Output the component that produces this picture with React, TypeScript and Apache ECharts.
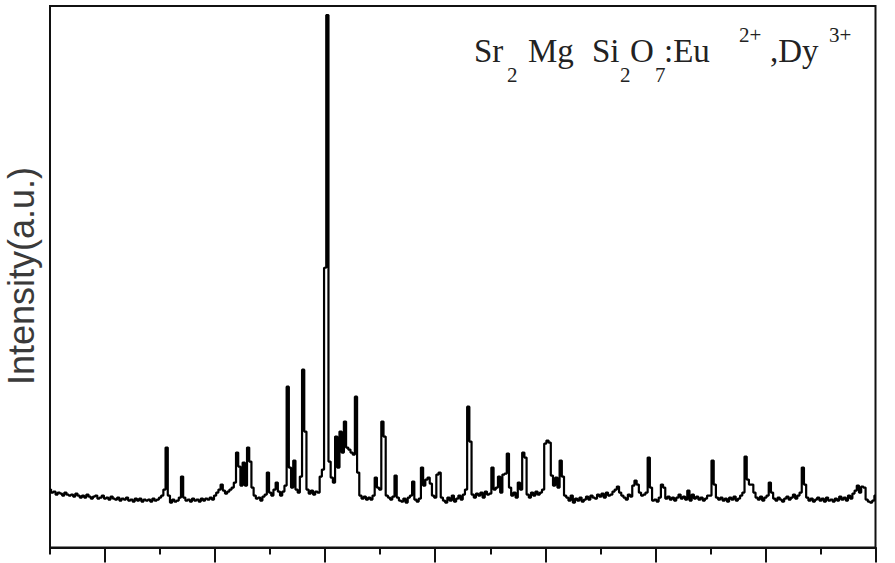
import React, { useEffect, useRef } from "react";
import * as echarts from "echarts";

// 2θ sampling grid (degrees)
const ANGLE_START = 5;
const ANGLE_STEP = 0.2;

// Intensity (a.u.), one row per degree: 2θ = d, d+0.2, d+0.4, d+0.6, d+0.8
const intensity: number[] = [
  58, 55, 56, 53, 55, // 5
  54, 52, 55, 53, 52, // 6
  53, 51, 54, 52, 50, // 7
  52, 50, 53, 51, 49, // 8
  51, 52, 49, 50, 52, // 9
  49, 50, 48, 51, 49, // 10
  48, 50, 47, 49, 48, // 11
  50, 47, 48, 46, 49, // 12
  47, 49, 46, 48, 47, // 13
  48, 46, 49, 47, 48, // 14
  50, 52, 58, 100, 52, // 15
  45, 48, 46, 47, 50, // 16
  71, 50, 47, 48, 46, // 17
  49, 47, 48, 46, 49, // 18
  47, 49, 48, 50, 48, // 19
  52, 55, 58, 63, 57, // 20
  54, 56, 58, 60, 65, // 21
  95, 81, 62, 85, 62, // 22
  100, 86, 60, 52, 49, // 23
  50, 47, 51, 53, 75, // 24
  55, 52, 58, 65, 56, // 25
  52, 56, 62, 161, 80, // 26
  60, 87, 58, 55, 71, // 27
  178, 116, 58, 54, 57, // 28
  53, 56, 55, 71, 78, // 29
  280, 533, 86, 70, 65, // 30
  111, 80, 116, 95, 126, // 31
  100, 98, 95, 93, 151, // 32
  75, 52, 49, 51, 48, // 33
  50, 48, 52, 70, 60, // 34
  58, 126, 111, 52, 50, // 35
  48, 51, 72, 50, 47, // 36
  46, 49, 45, 50, 52, // 37
  66, 48, 46, 49, 80, // 38
  62, 68, 70, 64, 52, // 39
  50, 73, 75, 50, 47, // 40
  45, 50, 47, 52, 46, // 41
  49, 52, 48, 53, 58, // 42
  141, 106, 53, 50, 54, // 43
  52, 55, 50, 56, 53, // 44
  54, 80, 58, 60, 71, // 45
  55, 73, 74, 94, 60, // 46
  52, 55, 50, 65, 58, // 47
  95, 90, 53, 50, 55, // 48
  52, 56, 53, 55, 58, // 49
  104, 107, 105, 72, 62, // 50
  70, 60, 87, 71, 52, // 51
  50, 47, 52, 45, 49, // 52
  47, 50, 46, 48, 51, // 53
  48, 52, 50, 49, 53, // 54
  51, 54, 50, 55, 52, // 55
  53, 56, 58, 61, 55, // 56
  52, 50, 48, 53, 51, // 57
  62, 67, 63, 55, 52, // 58
  53, 55, 90, 60, 47, // 59
  48, 46, 50, 63, 60, // 60
  49, 51, 48, 50, 47, // 61
  50, 53, 49, 51, 48, // 62
  57, 47, 53, 49, 51, // 63
  48, 50, 47, 49, 52, // 64
  52, 87, 63, 50, 48, // 65
  50, 47, 49, 46, 50, // 66
  48, 51, 47, 49, 52, // 67
  55, 91, 68, 63, 63, // 68
  55, 50, 48, 51, 47, // 69
  50, 52, 65, 55, 49, // 70
  47, 50, 48, 46, 49, // 71
  51, 48, 50, 53, 49, // 72
  52, 55, 80, 63, 50, // 73
  47, 49, 46, 48, 50, // 74
  47, 49, 46, 50, 47, // 75
  48, 46, 49, 47, 51, // 76
  48, 50, 47, 52, 49, // 77
  54, 57, 62, 55, 61, // 78
  60, 48, 46, 45, 47, // 79
  52, // 80
];

const X_MIN = 5;
const X_MAX = 80;
const X_MAJOR_START = 10;
const Y_MAX = 542;
const Y_LABEL = "Intensity(a.u.)";

// Title pieces: [text, kind, left x]
const titlePieces: [string, "main" | "sub" | "sup", number][] = [
  ["Sr", "main", 474],
  ["2", "sub", 507],
  ["Mg", "main", 528],
  ["Si", "main", 592],
  ["2", "sub", 620],
  ["O", "main", 630],
  ["7", "sub", 655],
  [":Eu", "main", 664],
  ["2+", "sup", 739],
  [",Dy", "main", 770],
  ["3+", "sup", 829],
];

export default function App() {
  const ref = useRef<HTMLDivElement>(null);
  useEffect(() => {
    if (!ref.current) return;
    const chart = echarts.init(ref.current, undefined, { renderer: "svg" });
    const data = intensity.map((v, i) => [
      +(ANGLE_START + i * ANGLE_STEP).toFixed(2),
      v,
    ]);
    const axisColor = "#111";
    const serif = '"Liberation Serif", "Times New Roman", serif';
    const gridLeft = 50;
    const gridRight = 19.5;
    const plotW = 895 - gridLeft - gridRight;
    const majorLeft =
      gridLeft + ((X_MAJOR_START - X_MIN) / (X_MAX - X_MIN)) * plotW;
    const titleGraphics = titlePieces.map(([t, kind, x]) => {
      const size = kind === "main" ? 33 : 21;
      const baseline = kind === "main" ? 62 : kind === "sub" ? 82 : 42;
      return {
        type: "text",
        x,
        y: baseline - 0.32 * size,
        style: {
          text: t,
          font: `${size}px ${serif}`,
          fill: "#222",
          align: "left",
          verticalAlign: "middle",
        },
      };
    });
    chart.setOption({
      animation: false,
      backgroundColor: "#fff",
      grid: [
        {
          left: gridLeft,
          right: gridRight,
          top: 6,
          bottom: 15.5,
          show: true,
          borderColor: axisColor,
          borderWidth: 2,
        },
        { left: majorLeft, right: gridRight, top: 6, bottom: 15.5 },
      ],
      xAxis: [
        {
          type: "value",
          gridIndex: 0,
          min: X_MIN,
          max: X_MAX,
          interval: 5,
          axisLine: { show: true, lineStyle: { color: axisColor, width: 2 } },
          axisTick: {
            show: true,
            inside: false,
            length: 7,
            lineStyle: { color: axisColor, width: 2 },
          },
          axisLabel: { show: false },
          splitLine: { show: false },
        },
        {
          type: "value",
          gridIndex: 1,
          min: X_MAJOR_START,
          max: X_MAX,
          interval: 10,
          axisLine: { show: false },
          axisTick: {
            show: true,
            inside: false,
            length: 15,
            lineStyle: { color: axisColor, width: 2 },
          },
          axisLabel: { show: false },
          splitLine: { show: false },
        },
      ],
      yAxis: [
        {
          type: "value",
          gridIndex: 0,
          min: 0,
          max: Y_MAX,
          axisLine: { show: true, lineStyle: { color: axisColor, width: 2 } },
          axisTick: { show: false },
          axisLabel: { show: false },
          splitLine: { show: false },
        },
        {
          type: "value",
          gridIndex: 1,
          min: 0,
          max: 1,
          show: false,
        },
      ],
      series: [
        {
          type: "line",
          xAxisIndex: 0,
          yAxisIndex: 0,
          data,
          step: "middle",
          showSymbol: false,
          symbol: "none",
          lineStyle: { color: "#000", width: 2.2 },
          clip: true,
        },
      ],
      graphic: [
        {
          type: "text",
          x: 21,
          y: 276,
          rotation: Math.PI / 2,
          style: {
            text: Y_LABEL,
            font: '36px "Liberation Sans", Arial, sans-serif',
            fill: "#3a3a3a",
            align: "center",
            verticalAlign: "middle",
          },
        },
        ...titleGraphics,
      ],
    });
    return () => chart.dispose();
  }, []);
  return (
    <div
      ref={ref}
      style={{ position: "absolute", left: 0, top: 0, width: 895, height: 563 }}
    />
  );
}
